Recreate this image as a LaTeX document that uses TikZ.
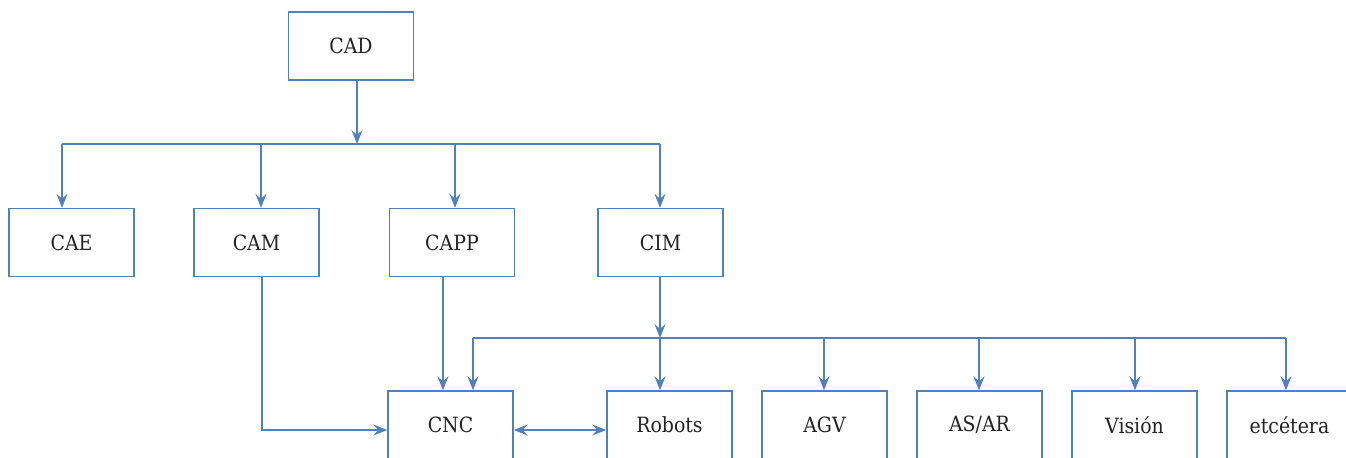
\documentclass[tikz,border=0pt]{standalone}
\usepackage{fontspec}
\setmainfont{DejaVu Serif Condensed}
\usetikzlibrary{arrows.meta}
\definecolor{lineblue}{RGB}{79,129,189}
\definecolor{textgray}{RGB}{34,34,34}

\begin{document}
\begin{tikzpicture}[x=0.5pt,y=-0.5pt,
    box/.style={draw=lineblue,line width=0.7pt,minimum width=62.5pt,
      minimum height=34pt,inner sep=0pt,text=textgray,
      font=\fontsize{10.5}{12}\selectfont},
    link/.style={draw=lineblue,line width=0.7pt,
      -{Stealth[length=7pt,width=5.5pt,inset=2.5pt]}},
    wire/.style={draw=lineblue,line width=0.7pt},
    both/.style={link,{Stealth[length=7pt,width=5.5pt,inset=2.5pt]}-{Stealth[length=7pt,width=5.5pt,inset=2.5pt]}}]
  \path[use as bounding box,clip] (0,0) rectangle (1346,457);
  % boxes
  \node[box] (cad) at (351,46) {CAD};
  \node[box] (cae) at (71.5,242.5) {CAE};
  \node[box] (cam) at (256.5,242.5) {CAM};
  \node[box] (capp) at (452,242.5) {CAPP};
  \node[box] (cim) at (660.5,242.5) {CIM};
  \node[box] (cnc) at (450.5,425) {CNC};
  \node[box] (robots) at (669.5,425) {Robots};
  \node[box] (agv) at (824.5,425) {AGV};
  \node[box] (asar) at (979.5,425) {AS/AR};
  \node[box] (vision) at (1134.5,425) {Visión};
  \node[box] (etc) at (1289.5,425) {etcétera};
  % branch points
  \coordinate (topbus) at (357,144);
  \coordinate (t1) at (62,144);
  \coordinate (t2) at (261,144);
  \coordinate (t3) at (455,144);
  \coordinate (t4) at (660,144);
  \coordinate (lowbus) at (660,338);
  \coordinate (b1) at (473,338);
  \coordinate (b6) at (1286,338);
  \coordinate (camdown) at (262,430);
  \coordinate (cappdown) at (443,300);
  % upper level
  \draw[link] (cad.south -| topbus) -- (topbus);
  \draw[wire] (t1) -- (t4);
  \foreach \t/\n in {t1/cae,t2/cam,t3/capp,t4/cim}
    \draw[link] (\t) -- (\t |- \n.north);
  % lower level
  \draw[link] (cim.south -| lowbus) -- (lowbus);
  \draw[wire] (b1) -- (b6);
  \draw[link] (b1) -- (b1 |- cnc.north);
  \foreach \x/\n in {660/robots,824/agv,979/asar,1135/vision,1286/etc}
    \draw[link] (\x,338) -- (\x,338 |- \n.north);
  \draw[link] (capp.south -| cappdown) -- (cappdown |- cnc.north);
  \draw[link] (cam.south -| camdown) |- (cnc.west |- camdown);
  \draw[both] (cnc.east |- camdown) -- (robots.west |- camdown);
\end{tikzpicture}
\end{document}
